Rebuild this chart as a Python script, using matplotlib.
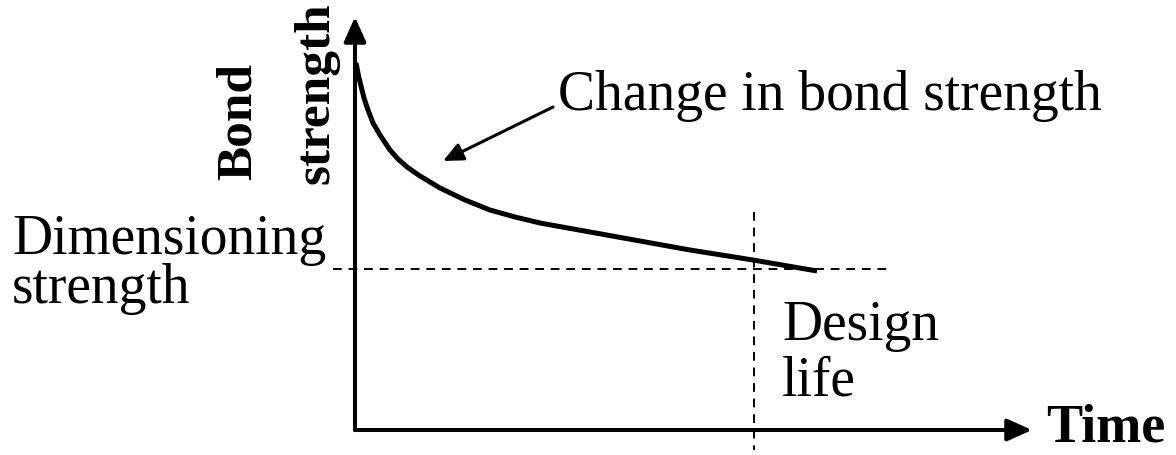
"""
Bond strength over time: schematic showing decay of bond strength towards
the dimensioning strength at the end of the design life.
"""
import matplotlib
matplotlib.use("Agg")
import matplotlib.pyplot as plt
from matplotlib.patches import ArrowStyle

# curve: time vs bond strength (schematic units)
time = [1, 4, 9, 13, 18, 25, 35, 43, 52, 65, 85, 110, 135, 160, 185, 235, 285, 335, 398, 462]
strength = [367, 352, 332, 320, 307, 295, 280, 271, 263, 254, 242, 230, 220, 213, 207, 198, 189, 180, 170, 159]

dim_strength = 161      # dimensioning strength level
design_life = 399       # design life on time axis
t_max, s_max = 677, 413  # axis arrow tips

labels = {
    "curve": "Change in bond strength",
    "dim": "Dimensioning\nstrength",
    "life": "Design\nlife",
    "x": "Time",
    "y1": "Bond",
    "y2": "strength",
}

plt.rcParams["font.family"] = ["Liberation Serif", "DejaVu Serif"]

fig = plt.figure(figsize=(11.76, 4.55), dpi=100)
ax = fig.add_axes([0, 0, 1, 1])
ax.set_xlim(-355, 821)
ax.set_ylim(-25, 430)
ax.axis("off")

# axes with arrowheads
head = ArrowStyle("-|>", head_length=1.0, head_width=0.45)
for tip in [(t_max, 0), (0, s_max)]:
    ax.annotate("", xy=tip, xytext=(0, 0),
                arrowprops=dict(arrowstyle=head, mutation_scale=15, lw=2.9,
                                color="black", shrinkA=0, shrinkB=0))

# reference lines
ax.plot([-22, 532], [dim_strength, dim_strength], color="black", lw=1.4,
        dashes=(4.5, 3.5))
ax.plot([design_life, design_life], [218, -20], color="black", lw=1.4,
        dashes=(4.5, 3.5))

# strength curve
ax.plot(time, strength, color="black", lw=3.6, solid_capstyle="butt")

# pointer to the curve
ax.annotate("", xy=(88, 269), xytext=(198, 323),
            arrowprops=dict(arrowstyle=ArrowStyle("-|>", head_length=1.1, head_width=0.5),
                            mutation_scale=11, lw=2.2, color="black",
                            shrinkA=0, shrinkB=0))

fs = 40
ax.text(203, 320, labels["curve"], fontsize=fs, ha="left", va="baseline")
# multi-line labels: baseline refers to the last line
ax.text(-343, 127, labels["dim"], fontsize=fs, ha="left", va="baseline",
        linespacing=0.93)
ax.text(427, 34, labels["life"], fontsize=fs, ha="left", va="baseline",
        linespacing=1.1)
ax.text(691, -12, labels["x"], fontsize=39, weight="bold", ha="left", va="baseline")
ax.text(-116, 309, labels["y1"], fontsize=37, weight="bold", rotation=90,
        ha="center", va="center")
ax.text(-38, 337, labels["y2"], fontsize=37, weight="bold", rotation=90,
        ha="center", va="center")

fig.savefig("out.png", dpi=100)
